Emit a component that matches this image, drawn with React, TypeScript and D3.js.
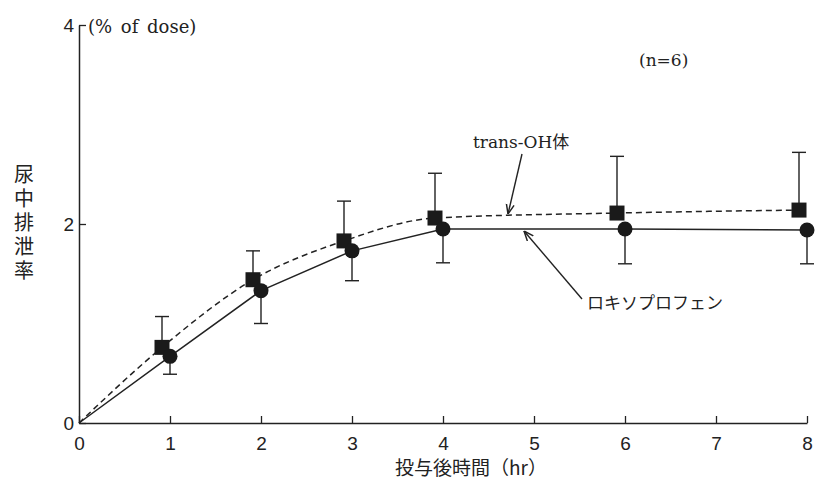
import { useEffect, useRef } from "react";
import * as d3 from "d3";

// hours after dosing
const times = [0, 1, 2, 3, 4, 6, 8];
// ロキソプロフェン (circles) mean, lower SD
const loxMean = [0, 0.67, 1.33, 1.73, 1.95, 1.95, 1.94];
const loxLow = [0, 0.49, 1.0, 1.43, 1.61, 1.6, 1.6];
// trans-OH体 (squares) mean, upper SD
const ohMean = [0, 0.76, 1.44, 1.83, 2.06, 2.11, 2.14];
const ohHigh = [0, 1.07, 1.73, 2.23, 2.51, 2.68, 2.72];

const xTicks = [0, 1, 2, 3, 4, 5, 6, 7, 8];
const yTicks = [0, 2, 4];

export default function App() {
  const ref = useRef<SVGSVGElement>(null);

  useEffect(() => {
    const svg = d3.select(ref.current);
    svg.selectAll("*").remove();

    const width = 819;
    const height = 481;
    const sans = "'Liberation Sans', Arial, sans-serif";
    const serif = "'DejaVu Serif', 'Liberation Serif', 'Noto Sans CJK JP', serif";
    const jp = "'Noto Sans CJK JP', sans-serif";
    const ink = "#222";

    svg.attr("width", width).attr("height", height);

    const x = d3.scaleLinear().domain([0, 8]).range([79, 807]);
    const y = d3.scaleLinear().domain([0, 4]).range([423, 25]);

    // axes with inward ticks
    const gx = svg.append("g")
      .attr("transform", `translate(0,${y(0)})`)
      .call(d3.axisBottom(x).tickValues(xTicks).tickFormat(d3.format("d")).tickSize(-7).tickPadding(14).tickSizeOuter(0));
    gx.select(".domain").attr("stroke", ink).attr("stroke-width", 1.5);
    gx.selectAll(".tick line").attr("stroke", ink).attr("stroke-width", 1.3);
    gx.selectAll("text").attr("font-family", sans).attr("font-size", 19).attr("fill", ink);

    const gy = svg.append("g")
      .attr("transform", `translate(${x(0)},0)`)
      .call(d3.axisLeft(y).tickValues(yTicks).tickFormat(d3.format("d")).tickSize(-7).tickPadding(5).tickSizeOuter(0));
    gy.select(".domain").attr("stroke", ink).attr("stroke-width", 1.5);
    gy.selectAll(".tick line").attr("stroke", ink).attr("stroke-width", 1.3);
    gy.selectAll("text").attr("font-family", sans).attr("font-size", 19).attr("fill", ink);

    const ohData = times.map((t, i) => ({ t, m: ohMean[i], e: ohHigh[i] }));
    const loxData = times.map((t, i) => ({ t, m: loxMean[i], e: loxLow[i] }));

    const sqShift = -8;
    const xs = (t: number) => x(t) + (t > 0 ? sqShift : 0);

    // error bars
    const cap = 7;
    const bar = (cx: number, y1: number, y2: number) => {
      svg.append("line").attr("x1", cx).attr("x2", cx).attr("y1", y1).attr("y2", y2)
        .attr("stroke", ink).attr("stroke-width", 1.4);
      svg.append("line").attr("x1", cx - cap).attr("x2", cx + cap).attr("y1", y2).attr("y2", y2)
        .attr("stroke", ink).attr("stroke-width", 1.4);
    };
    ohData.filter(d => d.t > 0).forEach(d => bar(xs(d.t), y(d.m), y(d.e)));
    loxData.filter(d => d.t > 0).forEach(d => bar(x(d.t), y(d.m), y(d.e)));

    // lines
    const ohLine = d3.line<{ t: number; m: number }>()
      .x(d => xs(d.t)).y(d => y(d.m)).curve(d3.curveMonotoneX);
    const loxLine = d3.line<{ t: number; m: number }>()
      .x(d => x(d.t)).y(d => y(d.m));

    svg.append("path").datum(ohData).attr("d", ohLine).attr("fill", "none")
      .attr("stroke", ink).attr("stroke-width", 1.5).attr("stroke-dasharray", "6,4");
    svg.append("path").datum(loxData).attr("d", loxLine).attr("fill", "none")
      .attr("stroke", ink).attr("stroke-width", 1.5);

    // markers
    const sq = 15;
    svg.selectAll("rect.oh").data(ohData.filter(d => d.t > 0)).join("rect")
      .attr("x", d => xs(d.t) - sq / 2).attr("y", d => y(d.m) - sq / 2)
      .attr("width", sq).attr("height", sq).attr("fill", "#1a1a1a");
    svg.selectAll("circle.lox").data(loxData.filter(d => d.t > 0)).join("circle")
      .attr("cx", d => x(d.t)).attr("cy", d => y(d.m)).attr("r", 7.5).attr("fill", "#1a1a1a");

    // arrows
    const defs = svg.append("defs");
    defs.append("marker").attr("id", "ah").attr("viewBox", "0 0 10 10")
      .attr("refX", 10).attr("refY", 5).attr("markerWidth", 7).attr("markerHeight", 7)
      .attr("orient", "auto-start-reverse")
      .append("path").attr("d", "M0,1 L10,5 L0,9").attr("fill", "none").attr("stroke", ink).attr("stroke-width", 1.5);

    svg.append("line").attr("x1", 522).attr("y1", 154).attr("x2", 508).attr("y2", 214)
      .attr("stroke", ink).attr("stroke-width", 1.4).attr("marker-end", "url(#ah)");
    svg.append("line").attr("x1", 582).attr("y1", 299).attr("x2", 524).attr("y2", 231)
      .attr("stroke", ink).attr("stroke-width", 1.4).attr("marker-end", "url(#ah)");

    // texts
    svg.append("text").attr("x", 88).attr("y", 33).attr("font-family", serif).attr("font-size", 18)
      .attr("word-spacing", 3).attr("fill", ink).text("(% of dose)");
    svg.append("text").attr("x", 639).attr("y", 66).attr("font-family", serif).attr("font-size", 17)
      .attr("fill", ink).text("(n=6)");
    svg.append("text").attr("x", 473).attr("y", 148).attr("font-family", serif).attr("font-size", 17)
      .attr("fill", ink).text("trans-OH体");
    svg.append("text").attr("x", 587).attr("y", 309).attr("font-family", jp).attr("font-size", 17)
      .attr("fill", ink).text("ロキソプロフェン");
    svg.append("text").attr("x", 471).attr("y", 475).attr("text-anchor", "middle")
      .attr("font-family", jp).attr("font-size", 19).attr("fill", ink).text("投与後時間（hr）");

    svg.append("text").attr("x", 24).attr("y", 224).attr("text-anchor", "middle")
      .style("writing-mode", "vertical-rl").attr("letter-spacing", 4)
      .attr("font-family", jp).attr("font-size", 20).attr("fill", ink).text("尿中排泄率");
  }, []);

  return <svg ref={ref} style={{ position: "absolute", left: 0, top: 0 }}></svg>;
}
